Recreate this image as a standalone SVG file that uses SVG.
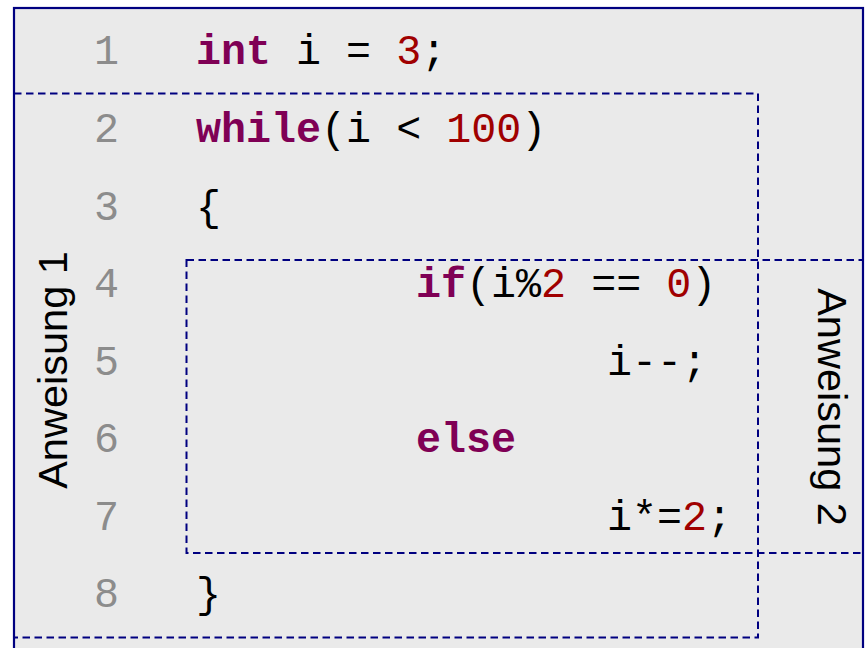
<svg xmlns="http://www.w3.org/2000/svg" width="866" height="648" viewBox="0 0 866 648">
<style>
.code{font-family:"Liberation Mono","Courier New",monospace;font-size:41.7px;fill:#000}
.ln{fill:#8c8c8c}
.kw{fill:#7f0055;font-weight:bold}
.num{fill:#a00000}
.lbl{font-family:"Liberation Sans",Arial,sans-serif;font-size:41.5px;fill:#000}
.box{fill:none;stroke:#000080;stroke-width:2;stroke-dasharray:7.5 4.5}
</style>
<rect width="866" height="648" fill="#ffffff"/>
<g id="frame">
<rect x="14" y="8" width="849" height="680" fill="#eaeaea" stroke="#000080" stroke-width="2.2"/>
</g>
<g id="code" class="code">
<text class="ln" x="94" y="64">1</text>
<text class="ln" x="94" y="142">2</text>
<text class="ln" x="94" y="220">3</text>
<text class="ln" x="94" y="297">4</text>
<text class="ln" x="94" y="375">5</text>
<text class="ln" x="94" y="452">6</text>
<text class="ln" x="94" y="530">7</text>
<text class="ln" x="94" y="607">8</text>
<text x="196" y="64" xml:space="preserve"><tspan class="kw">int</tspan> i = <tspan class="num">3</tspan>;</text>
<text x="196" y="142" xml:space="preserve"><tspan class="kw">while</tspan>(i &lt; <tspan class="num">100</tspan>)</text>
<text x="196" y="220">{</text>
<text x="416" y="297" xml:space="preserve"><tspan class="kw">if</tspan>(i%<tspan class="num">2</tspan> == <tspan class="num">0</tspan>)</text>
<text x="607" y="375">i--;</text>
<text x="416" y="452" class="kw">else</text>
<text x="607" y="530">i*=<tspan class="num">2</tspan>;</text>
<text x="196" y="607">}</text>
</g>
<g id="anweisung1">
<rect class="box" x="14" y="93.5" width="744" height="544"/>
<text class="lbl" text-anchor="middle" transform="translate(67,370) rotate(-90)">Anweisung 1</text>
</g>
<g id="anweisung2">
<rect class="box" x="186.5" y="260" width="676.5" height="293"/>
<text class="lbl" text-anchor="middle" font-size="42.5" transform="translate(818,407) rotate(90)">Anweisung 2</text>
</g>
</svg>
